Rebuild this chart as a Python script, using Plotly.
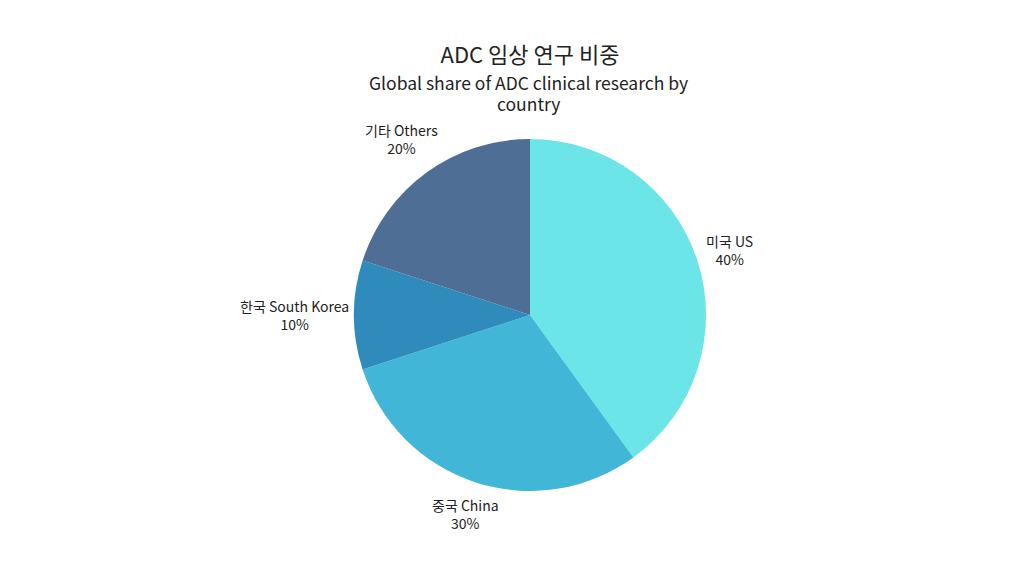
import math
import plotly.graph_objects as go

labels = ["미국 US", "중국 China", "한국 South Korea", "기타 Others"]
values = [40, 30, 10, 20]
colors = ["#6be5e8", "#42b6d6", "#2e8bbb", "#4e6e96"]

title = "ADC 임상 연구 비중"
subtitle_lines = ["Global share of ADC clinical research by", "country"]

font_family = "Noto Sans CJK KR, Noto Sans, sans-serif"
label_size = 14

fig = go.Figure(go.Pie(
    labels=labels,
    values=values,
    sort=False,
    direction="clockwise",
    rotation=0,
    marker=dict(colors=colors, line=dict(width=0)),
    textinfo="none",
    automargin=False,
    showlegend=False,
))

W, H = 1024, 576
left, right, top, bottom = 120, 100, 131, 93
plot_w = W - left - right
plot_h = H - top - bottom


def paper_x(px):
    return (px - left) / plot_w


def paper_y(py):
    return (H - bottom - py) / plot_h


def text_width(s):
    # rough width in px at label_size: hangul is full width
    return sum(14 if ord(c) >= 0xAC00 else 6.75 for c in s) * label_size / 14


# outside labels, centred on each slice's middle angle, just clear of the rim
cx, cy = left + plot_w / 2, top + plot_h / 2
radius = min(plot_w, plot_h) / 2
total = sum(values)
start = 0
for lab, v in zip(labels, values):
    theta = 2 * math.pi * (start + v / 2) / total
    start += v
    s, c = math.sin(theta), math.cos(theta)
    hw, hh = text_width(lab) / 2, 18.5
    d = radius + 5 + hw * abs(s) + hh * abs(c)
    fig.add_annotation(
        text=f"{lab}<br>{v / total:.0%}",
        x=paper_x(cx + d * s), xref="paper",
        y=paper_y(cy - d * c), yref="paper",
        xanchor="center", yanchor="middle", showarrow=False,
        font=dict(size=label_size, family=font_family, color="#222222"),
    )

for i, line in enumerate(subtitle_lines):
    fig.add_annotation(
        text=line, x=paper_x(520), xref="paper", y=paper_y(75 + 20 * i), yref="paper",
        xanchor="center", yanchor="middle", showarrow=False,
        font=dict(size=17.5, family=font_family, color="#222222"),
    )

fig.update_layout(
    width=W,
    height=H,
    paper_bgcolor="white",
    plot_bgcolor="white",
    font=dict(family=font_family, color="#222222"),
    title=dict(
        text=title,
        x=522 / W,
        xanchor="center",
        y=1 - 47 / H,
        yanchor="middle",
        font=dict(size=22, family=font_family, color="#222222"),
    ),
    margin=dict(t=top, b=bottom, l=left, r=right, autoexpand=False),
)

fig.write_html("out.html")
